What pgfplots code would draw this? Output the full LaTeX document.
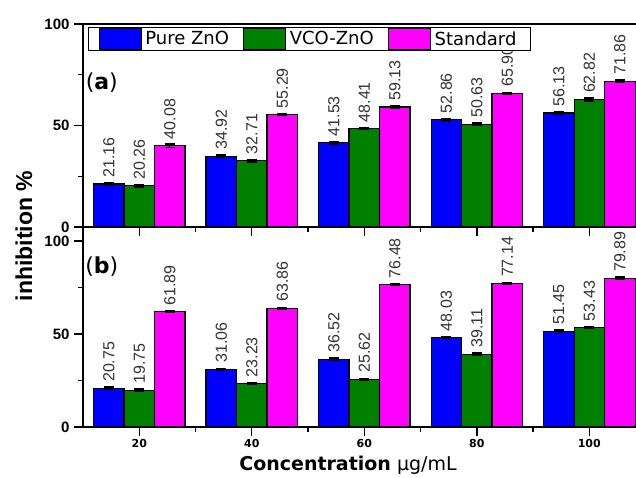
\documentclass[border=0pt]{standalone}
\usepackage{pgfplots}
\pgfplotsset{compat=1.18}
\usepackage{fontspec}
\setmainfont{Liberation Sans}
\newfontfamily\dejavu{DejaVu Sans}
\definecolor{cblue}{RGB}{0,0,255}
\definecolor{cgreen}{RGB}{0,128,0}
\definecolor{cpink}{RGB}{255,0,255}
\pgfplotsset{
  panel/.style={
    scale only axis, width=553pt, xmin=10, xmax=108.3, ymin=0,
    bar width=5.42,
    xtick={20,40,60,80,100}, minor xtick={30,50,70,90},
    ytick={0,50,100}, minor ytick={25,75},
    axis y line*=left,
    tick align=outside,
    major tick length=9pt, minor tick length=5pt,
    every tick/.style={black, line width=1.4pt},
    axis line style={line width=1.8pt},
    yticklabel style={font=\bfseries\fontsize{15}{15}\selectfont, xshift=-1pt},
    /pgf/number format/assume math mode=true,
    nodes near coords={\pgfmathprintnumber[fixed,fixed zerofill,precision=2]{\pgfplotspointmeta}},
    every node near coord/.style={rotate=90, anchor=west, inner xsep=6pt, inner ysep=0pt,
       font=\fontsize{16}{16}\selectfont, text=black!80},
    legend image code/.code={\draw[#1, draw=black, line width=0.8pt] (0pt,-10.5pt) rectangle (42pt,10.5pt);},
  },
  barstyle/.style={ybar, bar shift=0pt, draw=black, line width=1.1pt, fill=#1,
    error bars/.cd, y dir=both, y explicit,
    error bar style={line width=1.3pt, black},
    error mark options={rotate=90, mark size=5pt, line width=1.3pt, black},
    /pgfplots/.cd},
}
% x positions: group centre 20,40,...,100; bars shifted by -5.42, 0, +5.42
\begin{document}
\begin{tikzpicture}
% ---------- panel (b) ----------
\begin{axis}[panel, name=b, at={(0,0)}, anchor=south west,
  height=200pt, ymax=107.5,
  axis x line*=bottom, xtick pos=left,
  xticklabel style={font=\dejavu\bfseries\fontsize{11}{11}\selectfont},
  ]
\addplot[barstyle=cblue] coordinates {
 (14.58,20.75) +- (0,0.7) (34.58,31.06) +- (0,0.5) (54.58,36.52) +- (0,0.5) (74.58,48.03) +- (0,0.5) (94.58,51.45) +- (0,0.7)};
\addplot[barstyle=cgreen] coordinates {
 (20,19.75) +- (0,0.6) (40,23.23) +- (0,0.5) (60,25.62) +- (0,0.6) (80,39.11) +- (0,0.6) (100,53.43) +- (0,0.6)};
\addplot[barstyle=cpink] coordinates {
 (25.42,61.89) +- (0,0.4) (45.42,63.86) +- (0,0.4) (65.42,76.48) +- (0,0.4) (85.42,77.14) +- (0,0.5) (105.42,79.89) +- (0,0.7)};
\node[font=\dejavu\fontsize{22}{22}\selectfont] at (rel axis cs:0.034,0.8) {(\textbf{b})};
\end{axis}
% ---------- panel (a) ----------
\begin{axis}[panel, name=a, at={(0,200pt)}, anchor=south west,
  height=203pt, ymax=100,
  axis x line*=box, xtick pos=left, xticklabels={},
  legend columns=3,
  legend style={at={(rel axis cs:0.009,0.985)}, anchor=north west,
    draw=black, line width=1.2pt, inner xsep=10pt, inner ysep=0.5pt,
    font=\dejavu\fontsize{18}{18}\selectfont,
    nodes={inner xsep=4pt, inner ysep=1pt},
    /tikz/every even column/.append style={column sep=10pt}},
  ]
\addplot[barstyle=cblue] coordinates {
 (14.58,21.16) +- (0,0.6) (34.58,34.92) +- (0,0.6) (54.58,41.53) +- (0,0.7) (74.58,52.86) +- (0,0.7) (94.58,56.13) +- (0,0.5)};
\addplot[barstyle=cgreen] coordinates {
 (20,20.26) +- (0,0.5) (40,32.71) +- (0,0.7) (60,48.41) +- (0,0.5) (80,50.63) +- (0,0.6) (100,62.82) +- (0,0.7)};
\addplot[barstyle=cpink] coordinates {
 (25.42,40.08) +- (0,0.8) (45.42,55.29) +- (0,0.5) (65.42,59.13) +- (0,0.8) (85.42,65.90) +- (0,0.5) (105.42,71.86) +- (0,0.5)};
\legend{Pure ZnO, VCO-ZnO, Standard}
\node[font=\dejavu\fontsize{22}{22}\selectfont] at (rel axis cs:0.034,0.709) {(\textbf{a})};
\end{axis}
% ---------- axis titles ----------
\node[rotate=90, font=\bfseries\fontsize{23}{23}\selectfont] at (-59pt,191pt) {inhibition \%};
\node[font=\dejavu\fontsize{19}{19}\selectfont] at (265pt,-38pt) {\textbf{Concentration} µg/mL};
\pgfresetboundingbox
\path[use as bounding box] (-83pt,-51pt) rectangle (553pt,427pt);
\end{tikzpicture}
\end{document}
